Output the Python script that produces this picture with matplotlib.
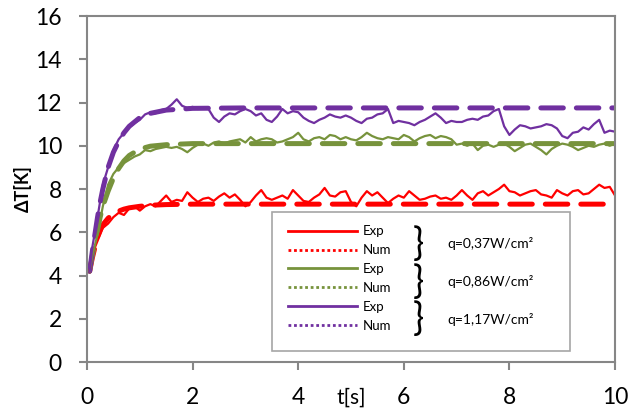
import numpy as np
import matplotlib.pyplot as plt
from matplotlib.lines import Line2D
from matplotlib.patches import Rectangle

plt.rcParams['font.family'] = ['Lato', 'DejaVu Sans']

# Experimental curves, sampled every 0.1 s (first point at 0.05 s)
t_exp = np.concatenate(([0.05], np.round(np.arange(1, 101) * 0.1, 2)))

red_exp = [4.2,
    5.0, 5.6, 6.2, 6.4, 6.7, 6.9, 6.8, 7.1, 7.2, 7.0,
    7.2, 7.3, 7.2, 7.45, 7.7, 7.4, 7.5, 7.45, 7.85, 7.6,
    7.4, 7.55, 7.6, 7.45, 7.65, 7.8, 7.6, 7.75, 7.5, 7.2,
    7.4, 7.7, 7.95, 7.6, 7.5, 7.6, 7.7, 7.55, 7.95, 7.7,
    7.45, 7.4, 7.6, 7.75, 8.05, 7.7, 7.65, 7.85, 7.9, 7.4,
    7.2, 7.6, 7.9, 7.7, 7.85, 7.6, 7.35, 7.55, 7.7, 7.6,
    7.9, 7.7, 7.5, 7.55, 7.65, 7.7, 7.55, 7.6, 7.5, 7.7,
    7.95, 7.7, 7.5, 7.8, 7.9, 7.7, 7.85, 8.0, 8.2, 7.9,
    7.85, 7.7, 7.8, 7.9, 7.95, 7.75, 7.7, 7.6, 7.95, 7.8,
    7.7, 7.9, 7.95, 7.75, 7.8, 8.0, 8.2, 8.05, 8.1, 7.7]

green_exp = [4.2,
    4.9, 5.9, 7.2, 8.2, 8.7, 9.0, 9.2, 9.35, 9.5, 9.6,
    9.8, 9.75, 9.85, 9.9, 9.95, 9.9, 9.95, 9.85, 9.7, 9.9,
    10.05, 10.1, 10.0, 10.15, 10.2, 10.1, 10.2, 10.25, 10.3, 10.15,
    10.4, 10.2, 10.3, 10.35, 10.3, 10.15, 10.2, 10.3, 10.4, 10.6,
    10.3, 10.2, 10.35, 10.4, 10.3, 10.5, 10.45, 10.3, 10.4, 10.3,
    10.25, 10.4, 10.6, 10.45, 10.35, 10.3, 10.4, 10.35, 10.3, 10.5,
    10.4, 10.2, 10.35, 10.45, 10.5, 10.35, 10.45, 10.4, 10.3, 10.05,
    10.1, 10.0, 10.1, 9.8, 10.0, 10.05, 9.95, 10.05, 10.1, 9.95,
    9.75, 9.9, 10.05, 10.1, 9.95, 9.8, 9.6, 9.85, 10.0, 10.1,
    10.05, 9.95, 9.8, 9.9, 10.0, 9.95, 10.05, 10.1, 10.0, 10.1]

purple_exp = [4.2,
    5.3, 6.7, 8.2, 9.0, 9.8, 10.3, 10.6, 10.85, 11.05, 11.2,
    11.45, 11.55, 11.5, 11.65, 11.7, 11.9, 12.15, 11.85, 11.75, 11.8,
    11.7, 11.75, 11.7, 11.3, 11.1, 11.35, 11.5, 11.45, 11.6, 11.7,
    11.6, 11.4, 11.5, 11.2, 11.1, 11.35, 11.7, 11.5, 11.6, 11.55,
    11.3, 11.15, 11.05, 11.2, 11.3, 11.45, 11.35, 11.3, 11.4, 11.3,
    11.15, 11.05, 11.25, 11.3, 11.45, 11.5, 11.7, 11.05, 11.15, 11.1,
    11.05, 10.95, 11.1, 11.2, 11.35, 11.5, 11.3, 11.05, 11.15, 11.1,
    11.1, 11.2, 11.25, 11.2, 11.35, 11.4, 11.6, 11.7, 10.9, 10.5,
    10.75, 10.95, 10.9, 10.8, 10.85, 10.9, 11.0, 10.95, 10.8, 10.45,
    10.35, 10.6, 10.65, 10.85, 10.75, 11.0, 11.2, 10.6, 10.7, 10.65]

# Numerical curves
t_num = [0.05, 0.1, 0.15, 0.2, 0.25, 0.3, 0.4, 0.5, 0.6, 0.7, 0.8, 1.0, 1.2, 1.5, 2.0, 3.0, 10.0]
red_num = [4.2, 4.8, 5.3, 5.8, 6.1, 6.35, 6.65, 6.85, 6.98, 7.07, 7.13, 7.2, 7.25, 7.28, 7.3, 7.3, 7.3]
green_num = [4.2, 4.9, 5.5, 6.1, 6.7, 7.2, 7.9, 8.5, 8.95, 9.3, 9.55, 9.85, 9.98, 10.05, 10.1, 10.1, 10.1]
purple_num = [4.2, 5.1, 5.9, 6.7, 7.4, 8.0, 9.0, 9.7, 10.2, 10.6, 10.9, 11.3, 11.5, 11.65, 11.73, 11.75, 11.75]

colors = ['#FF0000', '#77933C', '#7030A0']
q_labels = ['q=0,37W/cm²', 'q=0,86W/cm²', 'q=1,17W/cm²']

fig = plt.figure(figsize=(6.42, 4.15), dpi=100)
ax = fig.add_axes([0.1355, 0.1277, 0.8225, 0.8337])

for num, c in zip([red_num, green_num, purple_num], colors):
    ln, = ax.plot(t_num, num, color=c, lw=3.6)
    ln.set_dashes((4.5, 2.6))
    ln.set_dash_capstyle('round')
for exp, c in zip([red_exp, green_exp, purple_exp], colors):
    ax.plot(t_exp, exp, color=c, lw=1.6)

ax.set_xlim(0, 10)
ax.set_ylim(0, 16)
ax.set_xticks(np.arange(0, 11, 2))
ax.set_yticks(np.arange(0, 17, 2))
for s in ax.spines.values():
    s.set_color('#868686')
    s.set_linewidth(1.5)
ax.tick_params(direction='out', length=6, width=1.5, color='#868686',
               labelsize=16.5, pad=12)

ax.set_ylabel('ΔT[K]', fontsize=13, fontweight='bold')
ax.yaxis.set_label_coords(-0.105, 0.5)
ax.set_xlabel('t[s]', fontsize=15)
ax.xaxis.set_label_coords(0.5, -0.075)

# legend box
ax.add_patch(Rectangle((0.350, 0.032), 0.565, 0.402, transform=ax.transAxes,
                       facecolor='white', edgecolor='#A6A6A6', lw=1.2, zorder=5))
handles = []
labels = []
for c in colors:
    handles.append(Line2D([], [], color=c, lw=2))
    labels.append('Exp')
    handles.append(Line2D([], [], color=c, lw=2, ls=(0, (1, 1))))
    labels.append('Num')
leg = ax.legend(handles, labels, loc='upper left', bbox_to_anchor=(0.381, 0.395),
                frameon=False, fontsize=9.5, handlelength=5.2, handletextpad=0.45,
                labelspacing=0.52, borderpad=0, borderaxespad=0)
leg.set_zorder(6)

for yb, q in zip([0.342, 0.232, 0.124], q_labels):
    ax.text(0.628, yb, '}', transform=ax.transAxes, ha='center', va='center',
            fontsize=27, family='Lato', zorder=7)
    ax.text(0.682, yb, q, transform=ax.transAxes, ha='left', va='center',
            fontsize=10, zorder=7)

fig.savefig('out.png', dpi=100)
